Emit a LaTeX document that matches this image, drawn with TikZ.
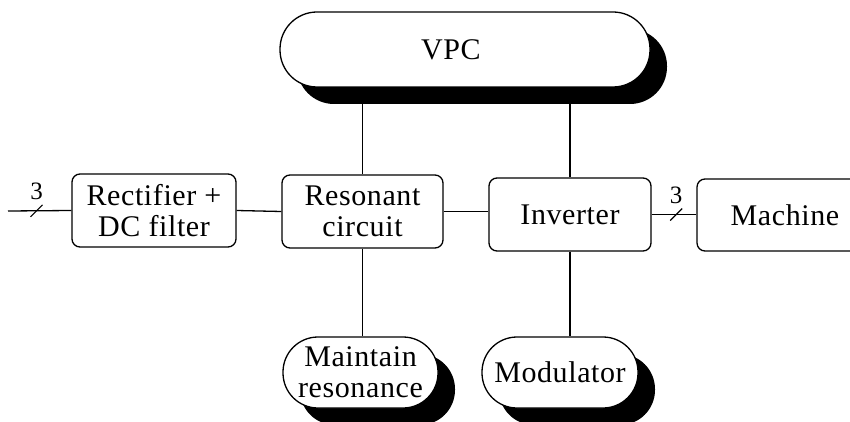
\documentclass[tikz,border=0pt]{standalone}
\usepackage{fontspec}
\setmainfont[LetterSpace=2]{Liberation Serif}
\usetikzlibrary{shadows}

\tikzset{
  every block/.style={draw, line width=1.3pt, align=center, inner sep=2pt,
    font=\fontsize{30}{31}\selectfont},
  block/.style={every block, rounded corners=8pt},
  pill/.style={every block, fill=white,
    drop shadow={shadow xshift=17pt, shadow yshift=-17pt, opacity=1, fill=black}},
}

\begin{document}
\begin{tikzpicture}[x=1pt, y=-1pt, line width=1.3pt]
\clip (0,0) rectangle (850,422);

\node [block, minimum width=164pt, minimum height=73pt] (rect) at (154,210.5) {Rectifier +\\DC filter};
\node [block, minimum width=161pt, minimum height=73pt] (res) at (362.5,211.5) {Resonant\\circuit};
\node [block, minimum width=162pt, minimum height=73pt] (inv) at (570,214.5) {Inverter};
\node [block, minimum width=176pt, minimum height=72pt] (mach) at (785,215) {Machine};

\node [pill, rounded corners=37pt, minimum width=370pt, minimum height=75pt] (vpc) at (465,49.5) {\hspace*{-28pt}VPC};
\node [pill, rounded corners=35pt, minimum width=155pt, minimum height=71pt] (maint) at (360.5,372.5) {Maintain\\resonance};
\node [pill, rounded corners=35pt, minimum width=156pt, minimum height=71pt] (mod) at (560,372.5) {Modulator};

% power path
\coordinate (in) at (8,211);
\draw (in) -- (rect.west) coordinate [pos=0.45] (s1);
\draw (rect.east) -- (res.west);
\draw (res.east) -- (res.east -| inv.west);
\draw (inv.east) -- (inv.east -| mach.west) coordinate [pos=0.55] (s2);

% three phase marks
\foreach \s in {s1,s2} {
  \draw [line width=1.1pt] (\s) ++(-6,6) -- ++(12,-12);
  \node [font=\fontsize{25}{25}\selectfont, above=7pt] (\s-n) at (\s) {3};
}

% control links
\draw (res.north) -- (res.north |- vpc.south);
\draw (inv.north) -- (inv.north |- vpc.south);
\draw (res.south) -- (res.south |- maint.north);
\draw (inv.south) -- (inv.south |- mod.north);
\end{tikzpicture}
\end{document}
